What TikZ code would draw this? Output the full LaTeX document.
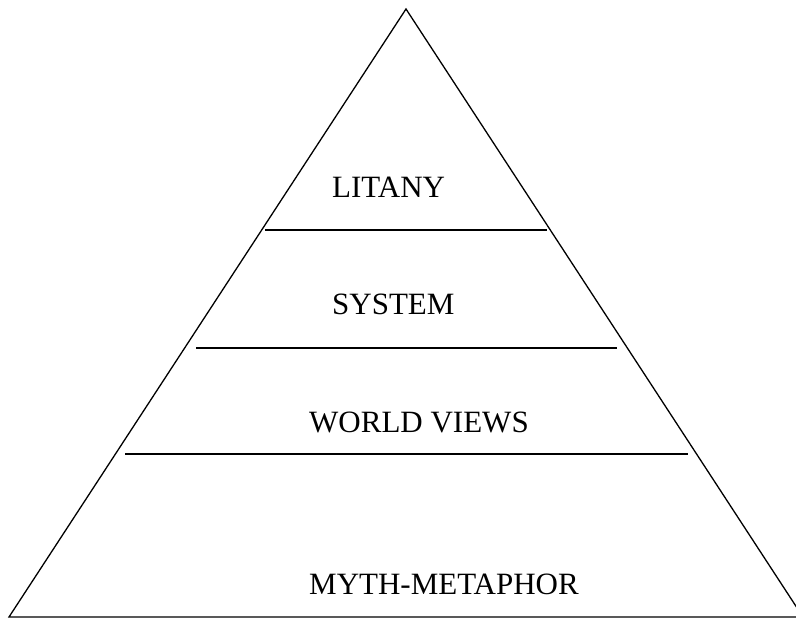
\documentclass[tikz,border=0pt]{standalone}
\usepackage{fontspec}
\setmainfont{Liberation Serif}
\begin{document}
\begin{tikzpicture}[x=1pt, y=-1pt]
  % Define styles
  \tikzstyle{level} = [inner sep=0pt, anchor=base west, font=\fontsize{31}{37}\selectfont]
  \tikzstyle{line} = [draw, line width=1.3pt]
  \useasboundingbox (0,0) rectangle (796,621);

  % Corners of the pyramid
  \coordinate (apex) at (406,9);
  \coordinate (baseleft) at (9,617);
  \coordinate (baseright) at (803,617);

  % Ends of the dividing lines
  \coordinate (litanyleft) at (265,230);
  \coordinate (litanyright) at (547,230);
  \coordinate (systemleft) at (196,348);
  \coordinate (systemright) at (617,348);
  \coordinate (viewsleft) at (125,454);
  \coordinate (viewsright) at (688,454);

  % Place labels
  \node [level] (litany) at (332,197) {LITANY};
  \node [level] (system) at (332,314) {SYSTEM};
  \node [level] (views) at (309,432) {WORLD VIEWS};
  \node [level] (myth) at (309,594) {MYTH-METAPHOR};

  % Draw lines
  \path [line] (apex) -- (baseleft) -- (baseright) -- cycle;
  \path [line] (litanyleft) -- (litanyright);
  \path [line] (systemleft) -- (systemright);
  \path [line] (viewsleft) -- (viewsright);
\end{tikzpicture}
\end{document}
